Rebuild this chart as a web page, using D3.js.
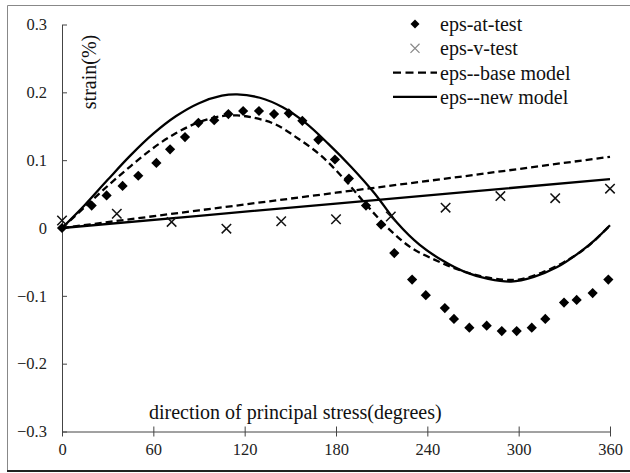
<!DOCTYPE html>
<html>
<head>
<meta charset="utf-8">
<script src="https://cdn.jsdelivr.net/npm/d3@7"></script>
<style>
  html, body { margin: 0; padding: 0; background: #fff; }
  svg { display: block; }
  svg text { font-family: "Liberation Serif", "Times New Roman", serif; }
</style>
</head>
<body>
<div id="chart"></div>
<script>
// eps-at-test (diamonds)
const atTestX = [0, 19.5, 29.3, 39.8, 50.1, 62, 71, 80.8, 89.6, 100, 109.3, 119, 129.4, 139.3, 149, 157.9, 168.4, 179.3, 188.5, 199.7, 209.6, 218.3, 230, 239, 251.5, 257.5, 267.6, 279, 288.9, 298.7, 308.6, 317.5, 329.8, 338.1, 348.6, 358.9];
const atTestY = [0, 0.033, 0.048, 0.062, 0.077, 0.096, 0.116, 0.134, 0.155, 0.159, 0.168, 0.1725, 0.1725, 0.168, 0.169, 0.158, 0.130, 0.101, 0.073, 0.033, 0.005, -0.037, -0.076, -0.099, -0.118, -0.134, -0.147, -0.144, -0.152, -0.152, -0.147, -0.134, -0.110, -0.106, -0.096, -0.076];

// eps-v-test (crosses)
const vTestX = [0, 36, 72, 108, 144, 180, 216, 252, 288, 324, 360];
const vTestY = [0.011, 0.021, 0.009, -0.001, 0.010, 0.013, 0.017, 0.030, 0.047, 0.044, 0.058];

// base model (dashed)
const baseAtX = [0, 15, 30, 45, 60, 75, 90, 105, 115, 125, 140, 155, 170, 185, 200, 215, 230, 245, 260, 275, 290, 300, 315, 330, 345, 360];
const baseAtY = [0, 0.031, 0.062, 0.091, 0.118, 0.140, 0.156, 0.165, 0.166, 0.163, 0.153, 0.132, 0.107, 0.073, 0.034, -0.002, -0.030, -0.047, -0.061, -0.071, -0.076, -0.076, -0.066, -0.050, -0.028, 0.004];
const baseVX = [0, 90, 180, 270, 360];
const baseVY = [0, 0.026, 0.052, 0.078, 0.105];

// new model (solid)
const newAtX = [0, 15, 30, 45, 60, 75, 90, 105, 115, 130, 145, 160, 175, 190, 205, 220, 235, 250, 265, 280, 295, 310, 325, 340, 350, 360];
const newAtY = [0, 0.034, 0.071, 0.107, 0.139, 0.165, 0.184, 0.195, 0.197, 0.192, 0.178, 0.155, 0.124, 0.090, 0.052, 0.008, -0.025, -0.048, -0.065, -0.075, -0.079, -0.072, -0.058, -0.036, -0.018, 0.004];
const newVX = [0, 90, 180, 270, 360];
const newVY = [0, 0.018, 0.036, 0.054, 0.072];

const xTicks = [0, 60, 120, 180, 240, 300, 360];
const yTicks = [-0.3, -0.2, -0.1, 0, 0.1, 0.2, 0.3];

const FONT = '"Liberation Serif", "Times New Roman", serif';
const W = 630, H = 473;
const svg = d3.select('#chart').append('svg').attr('width', W).attr('height', H);

// outer frame
svg.append('line').attr('x1', 7.5).attr('y1', 5.5).attr('x2', W).attr('y2', 5.5).attr('stroke', '#888');
svg.append('line').attr('x1', 7.5).attr('y1', 5.5).attr('x2', 7.5).attr('y2', 471).attr('stroke', '#888');
svg.append('line').attr('x1', 7).attr('y1', 471).attr('x2', W).attr('y2', 471).attr('stroke', '#222').attr('stroke-width', 2);

const x = d3.scaleLinear().domain([0, 360]).range([62, 610]);
const y = d3.scaleLinear().domain([-0.3, 0.3]).range([431.5, 24.5]);

// axes
const yAxis = svg.append('g').attr('transform', 'translate(' + x(0) + ',0)')
  .call(d3.axisLeft(y).tickValues(yTicks).tickSizeInner(5).tickSizeOuter(0)
    .tickFormat(d => d === 0 ? '0' : d3.format('.1f')(d)));
yAxis.selectAll('.tick line').attr('x2', 5);
const xAxis = svg.append('g').attr('transform', 'translate(0,' + y(-0.3) + ')')
  .call(d3.axisBottom(x).tickValues(xTicks).tickSizeInner(5).tickSizeOuter(0));
xAxis.selectAll('.tick line').attr('y1', -5);

[yAxis, xAxis].forEach(a => {
  a.attr('font-family', FONT);
  a.select('.domain').attr('stroke', '#444');
  a.selectAll('.tick line').attr('stroke', '#444');
  a.selectAll('text').attr('font-size', 16.5).attr('fill', '#222');
});
yAxis.selectAll('text').attr('x', -15);
xAxis.selectAll('text').attr('y', 12);

// axis titles
svg.append('text').attr('x', 149).attr('y', 419).attr('font-size', 20).attr('fill', '#111')
  .text('direction of principal stress(degrees)');
svg.append('text').attr('transform', 'translate(96,72) rotate(-90)').attr('text-anchor', 'middle')
  .attr('font-size', 20).attr('fill', '#111').text('strain(%)');

// lines
const line = d3.line().x(d => x(d[0])).y(d => y(d[1]));
const curve = d3.line().x(d => x(d[0])).y(d => y(d[1])).curve(d3.curveCatmullRom.alpha(0.5));

function pairs(xs, ys) { return xs.map((v, k) => [v, ys[k]]); }

svg.append('path').datum(pairs(baseAtX, baseAtY)).attr('d', curve)
  .attr('fill', 'none').attr('stroke', '#000').attr('stroke-width', 2.3).attr('stroke-dasharray', '7,4');
svg.append('path').datum(pairs(baseVX, baseVY)).attr('d', line)
  .attr('fill', 'none').attr('stroke', '#000').attr('stroke-width', 2.3).attr('stroke-dasharray', '7,4');
svg.append('path').datum(pairs(newAtX, newAtY)).attr('d', curve)
  .attr('fill', 'none').attr('stroke', '#000').attr('stroke-width', 2.3);
svg.append('path').datum(pairs(newVX, newVY)).attr('d', line)
  .attr('fill', 'none').attr('stroke', '#000').attr('stroke-width', 2.3);

// markers
svg.append('g').selectAll('path').data(pairs(atTestX, atTestY)).join('path')
  .attr('transform', d => 'translate(' + x(d[0]) + ',' + y(d[1]) + ') rotate(45)')
  .attr('d', d3.symbol().type(d3.symbolSquare).size(52)).attr('fill', '#000');

const cross = d3.symbol().type(d3.symbolTimes).size(60);
svg.append('g').selectAll('path').data(pairs(vTestX, vTestY)).join('path')
  .attr('transform', d => 'translate(' + x(d[0]) + ',' + y(d[1]) + ')')
  .attr('d', cross).attr('fill', 'none').attr('stroke', '#111').attr('stroke-width', 1.5);

// legend
const legend = svg.append('g').attr('font-size', 20).attr('fill', '#111');
const legendItems = ['eps-at-test', 'eps-v-test', 'eps--base model', 'eps--new model'];
legendItems.forEach((name, k) => {
  const cy = 24 + k * 24.3;
  legend.append('text').attr('x', 440).attr('y', cy + 7).text(name);
  if (k === 0) {
    legend.append('path').attr('transform', 'translate(415,' + cy + ') rotate(45)')
      .attr('d', d3.symbol().type(d3.symbolSquare).size(40)).attr('fill', '#000');
  } else if (k === 1) {
    legend.append('path').attr('transform', 'translate(415,' + cy + ')')
      .attr('d', d3.symbol().type(d3.symbolTimes).size(55)).attr('fill', 'none')
      .attr('stroke', '#888').attr('stroke-width', 1.2);
  } else {
    legend.append('line').attr('x1', 393).attr('x2', 437).attr('y1', cy).attr('y2', cy)
      .attr('stroke', '#000').attr('stroke-width', 2.3)
      .attr('stroke-dasharray', k === 2 ? '8,4.5' : null);
  }
});

svg.selectAll('text').attr('font-family', FONT);
</script>
</body>
</html>
